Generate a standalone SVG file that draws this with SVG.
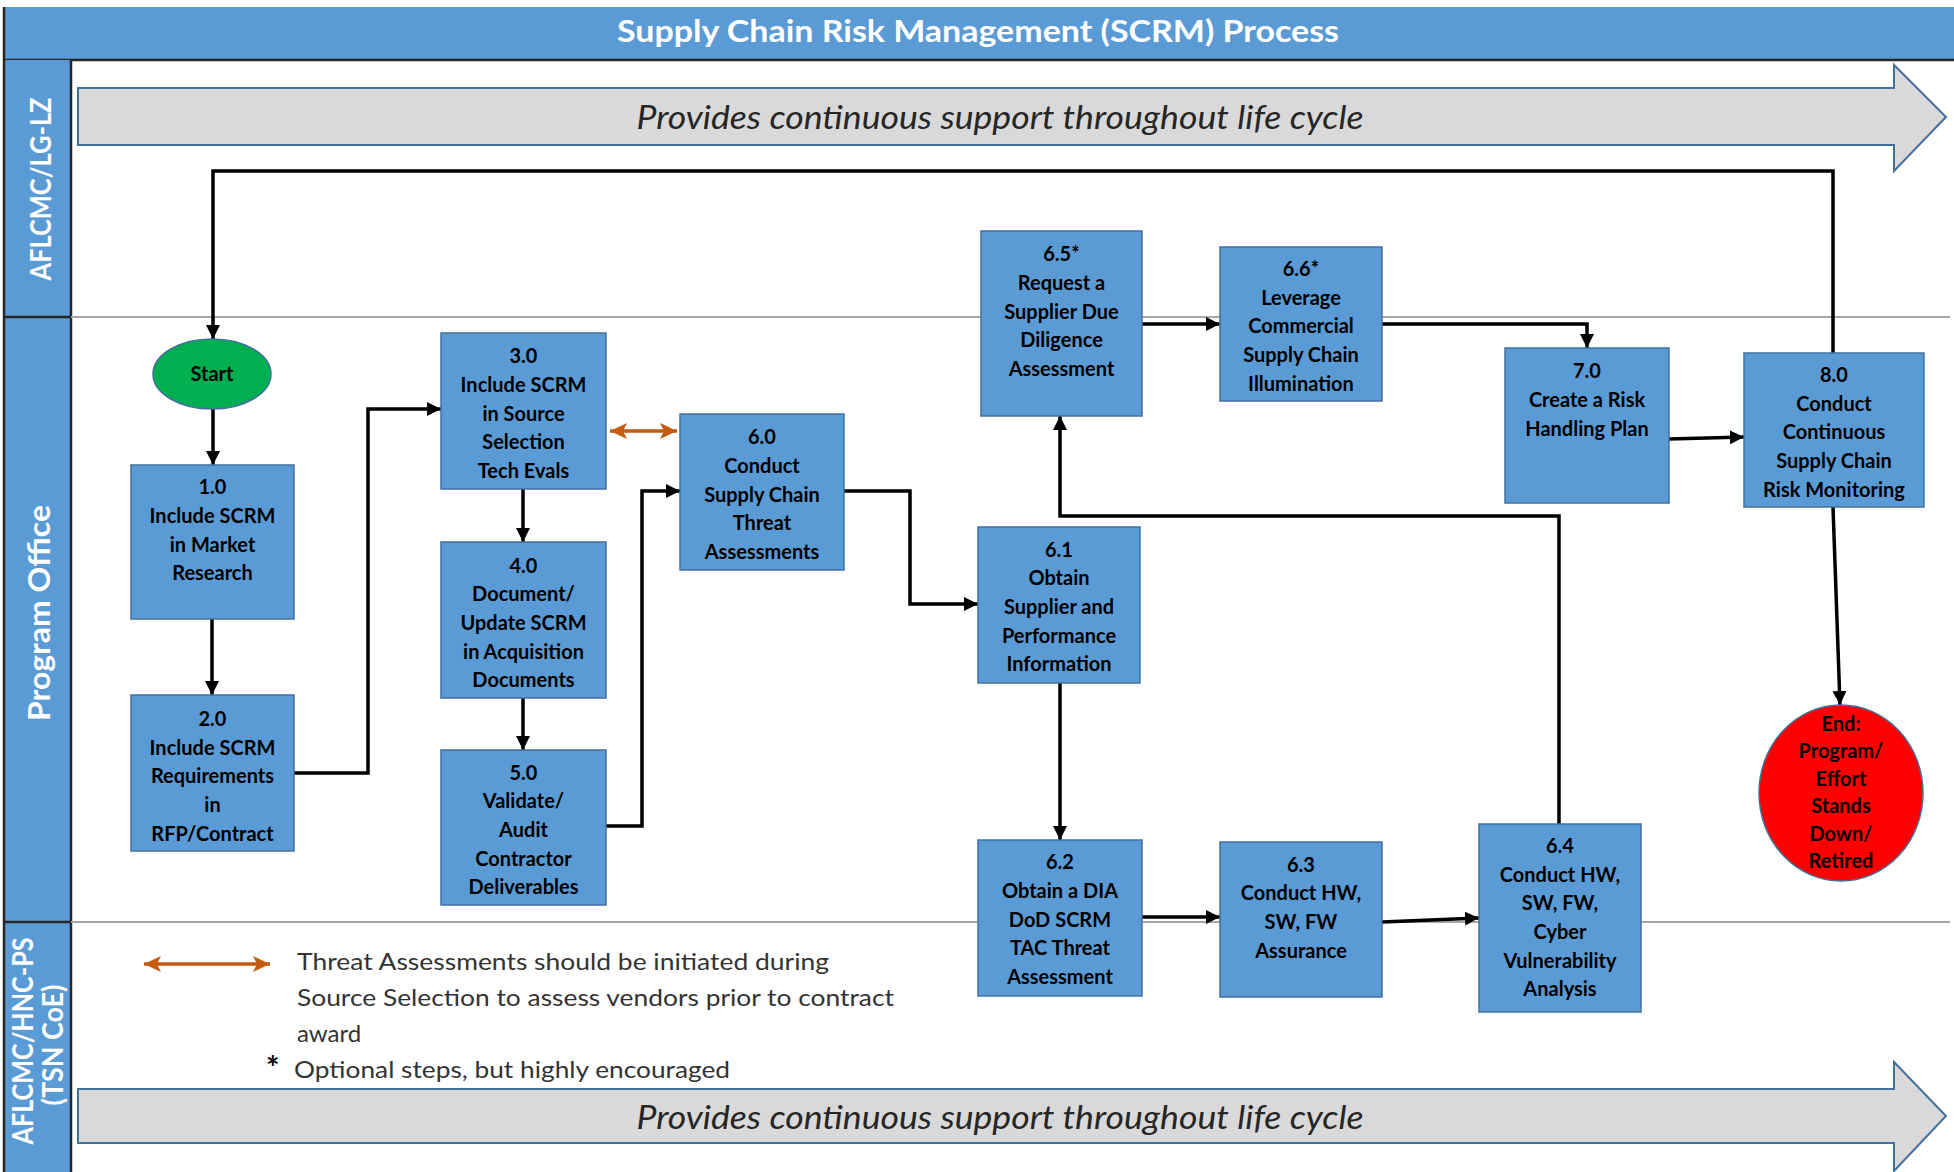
<svg xmlns="http://www.w3.org/2000/svg" width="1954" height="1172" viewBox="0 0 1954 1172">
<style>
.bg{fill:#ffffff}
.box{fill:#5b9bd5;stroke:#41719c;stroke-width:1.5}
.n{font-family:Lato,"Liberation Sans",sans-serif;font-weight:700;font-size:20px;fill:#000;text-anchor:middle}
.lane{font-family:Lato,"Liberation Sans",sans-serif;font-weight:700;fill:#fff;text-anchor:middle;dominant-baseline:central}
.band{fill:#d9d9d9;stroke:#41719c;stroke-width:2}
.bandtxt{font-family:Lato,"Liberation Sans",sans-serif;font-style:italic;font-size:33px;fill:#262626;text-anchor:middle}
.leg{font-family:Lato,"Liberation Sans",sans-serif;font-size:24px;fill:#333333}
.c{fill:none;stroke:#000;stroke-width:3.5;stroke-linejoin:miter}
.div{stroke:#a6a6a6;stroke-width:2}
.dark{stroke:#262626;stroke-width:2.5}
.orange{fill:none;stroke:#c55a11;stroke-width:3.5}
</style>
<defs>
<marker id="ah" markerUnits="userSpaceOnUse" markerWidth="16" markerHeight="16" refX="14" refY="8" orient="auto">
<path d="M0,1 L14,8 L0,15 z" fill="#000"/>
</marker>
<marker id="oe" markerUnits="userSpaceOnUse" markerWidth="18" markerHeight="18" refX="17" refY="9" orient="auto">
<path d="M0,1 L17,9 L0,17 L4,9 z" fill="#c55a11"/>
</marker>
<marker id="os" markerUnits="userSpaceOnUse" markerWidth="18" markerHeight="18" refX="1" refY="9" orient="auto">
<path d="M18,1 L1,9 L18,17 L14,9 z" fill="#c55a11"/>
</marker>
</defs>
<rect class="bg" x="0" y="0" width="1954" height="1172"/>

<g id="title">
<rect x="4" y="7" width="1950" height="53" fill="#5b9bd5"/>
<line x1="4" y1="60" x2="1954" y2="60" class="dark" stroke-width="3"/>
<text x="978" y="42" font-family="Lato,'Liberation Sans',sans-serif" font-weight="700" font-size="31" fill="#fff" text-anchor="middle" textLength="722" lengthAdjust="spacingAndGlyphs">Supply Chain Risk Management (SCRM) Process</text>
</g>

<g id="lanes">
<rect x="4" y="60" width="67" height="1112" fill="#5b9bd5"/>
<line x1="4" y1="7" x2="4" y2="1172" class="dark"/>
<line x1="71" y1="60" x2="71" y2="1172" class="dark"/>
<line x1="4" y1="317" x2="71" y2="317" class="dark"/>
<line x1="4" y1="922" x2="71" y2="922" class="dark"/>
<line x1="71" y1="317" x2="1950" y2="317" class="div"/>
<line x1="71" y1="922" x2="1950" y2="922" class="div"/>
<text class="lane" transform="translate(40,189) rotate(-90)" font-size="28" textLength="183" lengthAdjust="spacingAndGlyphs">AFLCMC/LG-LZ</text>
<text class="lane" transform="translate(38,613) rotate(-90)" font-size="31" textLength="216" lengthAdjust="spacingAndGlyphs">Program Office</text>
<text class="lane" transform="translate(22,1041) rotate(-90)" font-size="28" textLength="207" lengthAdjust="spacingAndGlyphs">AFLCMC/HNC-PS</text>
<text class="lane" transform="translate(52,1045) rotate(-90)" font-size="28" textLength="121" lengthAdjust="spacingAndGlyphs">(TSN CoE)</text>
</g>

<g id="band-top">
<polygon class="band" points="78,88 1894,88 1894,65 1946,117 1894,171 1894,145 78,145"/>
<text class="bandtxt" x="1000" y="129" textLength="727" lengthAdjust="spacingAndGlyphs">Provides continuous support throughout life cycle</text>
</g>
<g id="band-bottom">
<polygon class="band" points="78,1089 1894,1089 1894,1062 1946,1116 1894,1171 1894,1143 78,1143"/>
<text class="bandtxt" x="1000" y="1129" textLength="727" lengthAdjust="spacingAndGlyphs">Provides continuous support throughout life cycle</text>
</g>

<g id="connectors">
<polyline class="c" points="1833,353 1833,171 213,171 213,339" marker-end="url(#ah)"/>
<line class="c" x1="213" y1="409" x2="213" y2="465" marker-end="url(#ah)"/>
<line class="c" x1="212" y1="619" x2="212" y2="695" marker-end="url(#ah)"/>
<polyline class="c" points="294,773 368,773 368,409 441,409" marker-end="url(#ah)"/>
<line class="c" x1="523" y1="489" x2="523" y2="542" marker-end="url(#ah)"/>
<line class="c" x1="523" y1="698" x2="523" y2="750" marker-end="url(#ah)"/>
<polyline class="c" points="606,826 642,826 642,491 680,491" marker-end="url(#ah)"/>
<line class="orange" x1="610" y1="431" x2="677" y2="431" marker-start="url(#os)" marker-end="url(#oe)"/>
<polyline class="c" points="844,491 910,491 910,604 978,604" marker-end="url(#ah)"/>
<line class="c" x1="1060" y1="683" x2="1060" y2="840" marker-end="url(#ah)"/>
<line class="c" x1="1142" y1="917" x2="1220" y2="917" marker-end="url(#ah)"/>
<line class="c" x1="1382" y1="922" x2="1479" y2="918" marker-end="url(#ah)"/>
<polyline class="c" points="1559,824 1559,516 1060,516 1060,416" marker-end="url(#ah)"/>
<line class="c" x1="1142" y1="324" x2="1220" y2="324" marker-end="url(#ah)"/>
<polyline class="c" points="1382,324 1587,324 1587,348" marker-end="url(#ah)"/>
<line class="c" x1="1669" y1="439" x2="1744" y2="437" marker-end="url(#ah)"/>
<line class="c" x1="1833" y1="507" x2="1840" y2="705" marker-end="url(#ah)"/>
</g>

<g id="start">
<ellipse cx="212" cy="374" rx="59" ry="35" fill="#00b050" stroke="#41719c" stroke-width="1.5"/>
<text class="n" x="212" y="381" font-size="18">Start</text>
</g>
<g id="n1">
<rect class="box" x="131" y="465" width="163" height="154"/>
<text class="n"><tspan x="212.5" y="494">1.0</tspan><tspan x="212.5" y="523">Include SCRM</tspan><tspan x="212.5" y="552">in Market</tspan><tspan x="212.5" y="580">Research</tspan></text>
</g>
<g id="n2">
<rect class="box" x="131" y="695" width="163" height="156"/>
<text class="n"><tspan x="212.5" y="726">2.0</tspan><tspan x="212.5" y="755">Include SCRM</tspan><tspan x="212.5" y="783">Requirements</tspan><tspan x="212.5" y="812">in</tspan><tspan x="212.5" y="841">RFP/Contract</tspan></text>
</g>
<g id="n3">
<rect class="box" x="441" y="333" width="165" height="156"/>
<text class="n"><tspan x="523.5" y="363">3.0</tspan><tspan x="523.5" y="392">Include SCRM</tspan><tspan x="523.5" y="421">in Source</tspan><tspan x="523.5" y="449">Selection</tspan><tspan x="523.5" y="478">Tech Evals</tspan></text>
</g>
<g id="n4">
<rect class="box" x="441" y="542" width="165" height="156"/>
<text class="n"><tspan x="523.5" y="573">4.0</tspan><tspan x="523.5" y="601">Document/</tspan><tspan x="523.5" y="630">Update SCRM</tspan><tspan x="523.5" y="659">in Acquisition</tspan><tspan x="523.5" y="687">Documents</tspan></text>
</g>
<g id="n5">
<rect class="box" x="441" y="750" width="165" height="155"/>
<text class="n"><tspan x="523.5" y="780">5.0</tspan><tspan x="523.5" y="808">Validate/</tspan><tspan x="523.5" y="837">Audit</tspan><tspan x="523.5" y="866">Contractor</tspan><tspan x="523.5" y="894">Deliverables</tspan></text>
</g>
<g id="n60">
<rect class="box" x="680" y="414" width="164" height="156"/>
<text class="n"><tspan x="762" y="444">6.0</tspan><tspan x="762" y="473">Conduct</tspan><tspan x="762" y="502">Supply Chain</tspan><tspan x="762" y="530">Threat</tspan><tspan x="762" y="559">Assessments</tspan></text>
</g>
<g id="n65">
<rect class="box" x="981" y="231" width="161" height="185"/>
<text class="n"><tspan x="1061.5" y="261">6.5*</tspan><tspan x="1061.5" y="290">Request a</tspan><tspan x="1061.5" y="319">Supplier Due</tspan><tspan x="1061.5" y="347">Diligence</tspan><tspan x="1061.5" y="376">Assessment</tspan></text>
</g>
<g id="n66">
<rect class="box" x="1220" y="247" width="162" height="154"/>
<text class="n"><tspan x="1301" y="276">6.6*</tspan><tspan x="1301" y="305">Leverage</tspan><tspan x="1301" y="333">Commercial</tspan><tspan x="1301" y="362">Supply Chain</tspan><tspan x="1301" y="391">Illumination</tspan></text>
</g>
<g id="n61">
<rect class="box" x="978" y="527" width="162" height="156"/>
<text class="n"><tspan x="1059" y="557">6.1</tspan><tspan x="1059" y="585">Obtain</tspan><tspan x="1059" y="614">Supplier and</tspan><tspan x="1059" y="643">Performance</tspan><tspan x="1059" y="671">Information</tspan></text>
</g>
<g id="n7">
<rect class="box" x="1505" y="348" width="164" height="155"/>
<text class="n"><tspan x="1587" y="378">7.0</tspan><tspan x="1587" y="407">Create a Risk</tspan><tspan x="1587" y="436">Handling Plan</tspan></text>
</g>
<g id="n8">
<rect class="box" x="1744" y="353" width="180" height="154"/>
<text class="n"><tspan x="1834" y="382">8.0</tspan><tspan x="1834" y="411">Conduct</tspan><tspan x="1834" y="439">Continuous</tspan><tspan x="1834" y="468">Supply Chain</tspan><tspan x="1834" y="497">Risk Monitoring</tspan></text>
</g>
<g id="end">
<ellipse cx="1841" cy="793" rx="82" ry="88" fill="#ff0000" stroke="#41719c" stroke-width="1.5"/>
<text class="n" font-size="19"><tspan x="1841" y="731">End:</tspan><tspan x="1841" y="758">Program/</tspan><tspan x="1841" y="786">Effort</tspan><tspan x="1841" y="813">Stands</tspan><tspan x="1841" y="841">Down/</tspan><tspan x="1841" y="868">Retired</tspan></text>
</g>
<g id="n62">
<rect class="box" x="978" y="840" width="164" height="156"/>
<text class="n"><tspan x="1060" y="869">6.2</tspan><tspan x="1060" y="898">Obtain a DIA</tspan><tspan x="1060" y="927">DoD SCRM</tspan><tspan x="1060" y="955">TAC Threat</tspan><tspan x="1060" y="984">Assessment</tspan></text>
</g>
<g id="n63">
<rect class="box" x="1220" y="842" width="162" height="155"/>
<text class="n"><tspan x="1301" y="872">6.3</tspan><tspan x="1301" y="900">Conduct HW,</tspan><tspan x="1301" y="929">SW, FW</tspan><tspan x="1301" y="958">Assurance</tspan></text>
</g>
<g id="n64">
<rect class="box" x="1479" y="824" width="162" height="188"/>
<text class="n"><tspan x="1560" y="853">6.4</tspan><tspan x="1560" y="882">Conduct HW,</tspan><tspan x="1560" y="910">SW, FW,</tspan><tspan x="1560" y="939">Cyber</tspan><tspan x="1560" y="968">Vulnerability</tspan><tspan x="1560" y="996">Analysis</tspan></text>
</g>

<g id="legend">
<line class="orange" x1="144" y1="964" x2="270" y2="964" marker-start="url(#os)" marker-end="url(#oe)"/>
<text class="leg" x="297" y="970" textLength="532" lengthAdjust="spacingAndGlyphs">Threat Assessments should be initiated during</text>
<text class="leg" x="297" y="1006" textLength="597" lengthAdjust="spacingAndGlyphs">Source Selection to assess vendors prior to contract</text>
<text class="leg" x="297" y="1042">award</text>
<text x="266" y="1080" font-family="Lato,'Liberation Sans',sans-serif" font-weight="700" font-size="32" fill="#000">*</text>
<text class="leg" x="294" y="1078" textLength="436" lengthAdjust="spacingAndGlyphs">Optional steps, but highly encouraged</text>
</g>
</svg>
